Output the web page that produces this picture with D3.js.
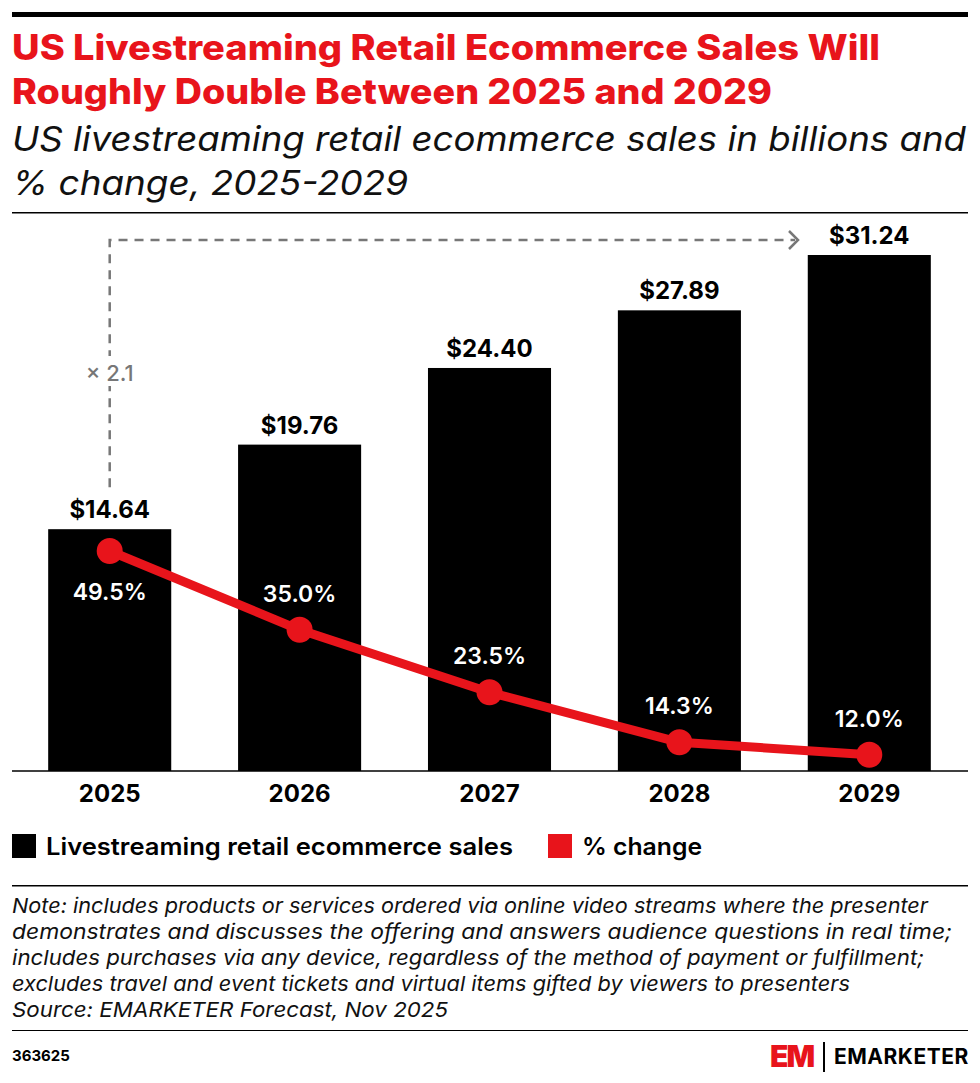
<!DOCTYPE html>
<html><head><meta charset="utf-8">
<script src="https://cdn.jsdelivr.net/npm/d3@7"></script>
<style>body{margin:0;background:#fff}svg{font-family:Inter,"Noto Sans",sans-serif}</style>
</head><body><svg id="c" width="980" height="1083"></svg>
<script>
var years = ["2025","2026","2027","2028","2029"];
var sales = [14.64,19.76,24.40,27.89,31.24];
var pctChange = [49.5,35.0,23.5,14.3,12.0];
var notes = ["Note: includes products or services ordered via online video streams where the presenter",
  "demonstrates and discusses the offering and answers audience questions in real time;",
  "includes purchases via any device, regardless of the method of payment or fulfillment;",
  "excludes travel and event tickets and virtual items gifted by viewers to presenters",
  "Source: EMARKETER Forecast, Nov 2025"];
var noteWidths = [916, 940, 912, 838, 436];

function fit(sel, widths){ sel.attr("textLength",function(d,i){return widths[i]}).attr("lengthAdjust","spacingAndGlyphs"); }

var svg = d3.select("#c");
svg.append("rect").attr("x",12).attr("y",12).attr("width",956).attr("height",5).attr("fill","#000");
svg.selectAll(".t").data(["US Livestreaming Retail Ecommerce Sales Will","Roughly Double Between 2025 and 2029"])
  .enter().append("text").attr("x",12).attr("y",function(d,i){return 60+i*44})
  .attr("fill","#e8141b").attr("font-size",35).attr("font-weight",800).text(function(d){return d}).call(fit,[868,760]);
svg.selectAll(".s").data(["US livestreaming retail ecommerce sales in billions and","% change, 2025-2029"])
  .enter().append("text").attr("x",12).attr("y",function(d,i){return 151+i*44})
  .attr("font-size",34).attr("font-style","italic").attr("fill","#111").text(function(d){return d}).call(fit,[954,396]);
svg.append("rect").attr("x",12).attr("y",212).attr("width",956).attr("height",1.5).attr("fill","#000");

var x = d3.scaleBand().domain(years).range([14,965]).paddingInner(0.352).paddingOuter(0.18);
var y = d3.scaleLinear().domain([0,31.24]).range([771,255]);
var yp = d3.scaleLinear().domain([0,49.5]).range([820,551]);

svg.selectAll(".bar").data(sales).enter().append("rect")
  .attr("x",function(d,i){return x(years[i])}).attr("width",x.bandwidth())
  .attr("y",function(d){return y(d)}).attr("height",function(d){return 771-y(d)}).attr("fill","#000");
svg.selectAll(".bl").data(sales).enter().append("text")
  .attr("x",function(d,i){return x(years[i])+x.bandwidth()/2}).attr("y",function(d){return y(d)-11})
  .attr("text-anchor","middle").attr("font-size",24).attr("font-weight",700).text(function(d){return "$"+d.toFixed(2)});
svg.append("line").attr("x1",12).attr("x2",968).attr("y1",771).attr("y2",771).attr("stroke","#000").attr("stroke-width",1.5);

// dashed growth arrow
var cx0 = x(years[0])+x.bandwidth()/2;
svg.append("path").attr("d","M"+cx0+","+(y(sales[0])-42)+"V240H795").attr("fill","none")
  .attr("stroke","#777").attr("stroke-width",2.5).attr("stroke-dasharray","9,7");
svg.append("path").attr("d","M789,231L798,240L789,249").attr("fill","none").attr("stroke","#777").attr("stroke-width",2.5);
svg.append("rect").attr("x",cx0-34).attr("y",356).attr("width",68).attr("height",30).attr("fill","#fff");
svg.append("text").attr("x",cx0).attr("y",381).attr("text-anchor","middle").attr("font-size",22).attr("font-weight",500).attr("fill","#777")
  .text("× "+(sales[4]/sales[0]).toFixed(1));

var line = d3.line().x(function(d,i){return x(years[i])+x.bandwidth()/2}).y(function(d){return yp(d)});
svg.append("path").attr("d",line(pctChange)).attr("fill","none").attr("stroke","#e8141b").attr("stroke-width",9).attr("stroke-linejoin","round");
svg.selectAll(".pt").data(pctChange).enter().append("circle")
  .attr("cx",function(d,i){return x(years[i])+x.bandwidth()/2}).attr("cy",function(d){return yp(d)}).attr("r",13).attr("fill","#e8141b");
svg.selectAll(".pl").data(pctChange).enter().append("text")
  .attr("x",function(d,i){return x(years[i])+x.bandwidth()/2})
  .attr("y",function(d,i){return i==0?yp(d)+49:yp(d)-28})
  .attr("text-anchor","middle").attr("font-size",23).attr("font-weight",600).attr("fill","#fff").text(function(d){return d.toFixed(1)+"%"});

svg.append("g").attr("transform","translate(0,771)").call(d3.axisBottom(x).tickSize(0).tickPadding(14))
  .call(function(g){g.select(".domain").remove();g.selectAll("text").attr("font-size",24).attr("font-weight",700).attr("fill","#000").attr("font-family","Inter,sans-serif")});

var leg = [["#000","Livestreaming retail ecommerce sales",12,467],["#e8141b","% change",548,120]];
leg.forEach(function(l){
  svg.append("rect").attr("x",l[2]).attr("y",834).attr("width",24).attr("height",24).attr("fill",l[0]);
  svg.append("text").attr("x",l[2]+34).attr("y",855).attr("font-size",24).attr("font-weight",600)
    .attr("textLength",l[3]).attr("lengthAdjust","spacingAndGlyphs").text(l[1]);
});
svg.append("rect").attr("x",12).attr("y",885).attr("width",956).attr("height",1.5).attr("fill","#000");
svg.selectAll(".n").data(notes).enter().append("text").attr("x",12).attr("y",function(d,i){return 913+i*26})
  .attr("font-size",20.5).attr("font-style","italic").attr("fill","#111").text(function(d){return d}).call(fit,noteWidths);
svg.append("rect").attr("x",12).attr("y",1030).attr("width",956).attr("height",1).attr("fill","#000");
svg.append("text").attr("x",12).attr("y",1061).attr("font-size",15).attr("font-weight",700).text("363625");
svg.append("text").attr("x",770).attr("y",1067).attr("font-size",30).attr("font-weight",900).attr("fill","#e8141b").attr("letter-spacing",-2).text("EM");
svg.append("rect").attr("x",823).attr("y",1042).attr("width",2).attr("height",30).attr("fill","#000");
svg.append("text").attr("x",834).attr("y",1064).attr("font-size",21).attr("font-weight",700).attr("letter-spacing",0.5).text("EMARKETER");
</script></body></html>
